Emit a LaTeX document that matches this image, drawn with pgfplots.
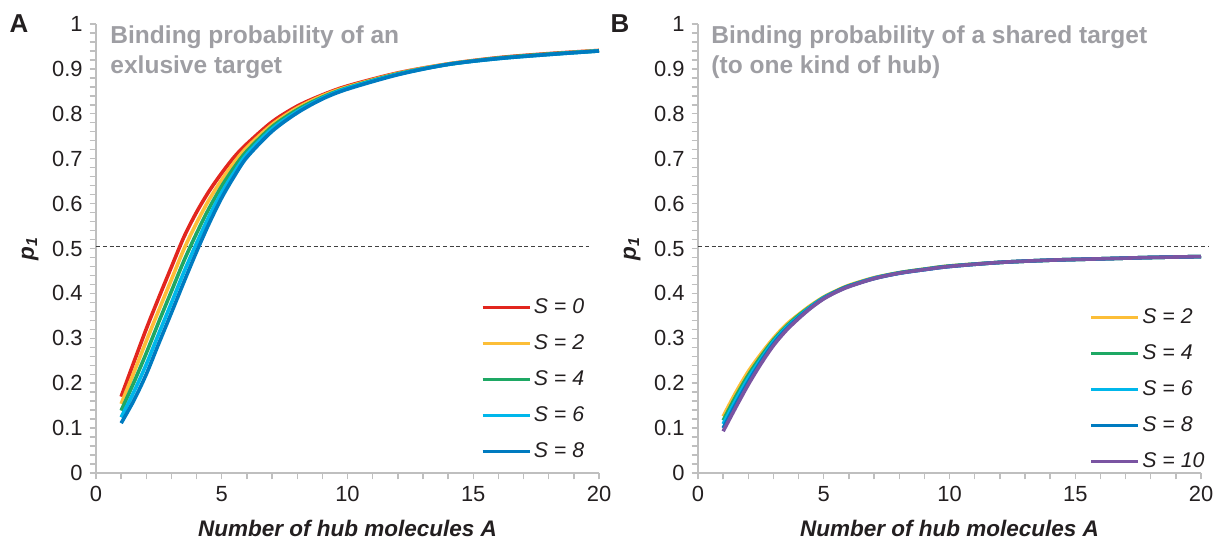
\documentclass[border=0pt]{standalone}
\usepackage{pgfplots}
\usepackage{pgfplotstable}
\usepackage{fontspec}
\setmainfont{Liberation Sans}
\pgfplotsset{compat=1.18}

\definecolor{cred}{RGB}{226,38,30}
\definecolor{cyel}{RGB}{252,190,56}
\definecolor{cgrn}{RGB}{30,168,100}
\definecolor{ccya}{RGB}{0,183,235}
\definecolor{cblu}{RGB}{0,123,192}
\definecolor{cpur}{RGB}{122,84,162}
\definecolor{axgray}{RGB}{191,191,191}
\definecolor{ttlgray}{RGB}{158,158,163}
\definecolor{txt}{RGB}{35,31,32}

\pgfplotstableread{
x    s0    s2    s4    s6    s8
1    0.170 0.154 0.139 0.124 0.111
1.5  0.246 0.223 0.201 0.180 0.161
2    0.321 0.294 0.267 0.242 0.220
2.5  0.391 0.363 0.337 0.311 0.289
3    0.459 0.431 0.405 0.379 0.357
3.5  0.526 0.499 0.473 0.448 0.426
4    0.581 0.557 0.534 0.512 0.493
4.5  0.628 0.609 0.590 0.572 0.556
5    0.668 0.653 0.639 0.625 0.613
5.5  0.704 0.692 0.681 0.670 0.661
6    0.733 0.725 0.717 0.710 0.703
7    0.782 0.776 0.771 0.766 0.761
8    0.817 0.813 0.809 0.805 0.802
9    0.842 0.840 0.837 0.835 0.833
10   0.862 0.860 0.858 0.857 0.855
12   0.891 0.890 0.889 0.888 0.887
14   0.911 0.911 0.910 0.910 0.910
16   0.925 0.924 0.924 0.923 0.923
18   0.934 0.933 0.933 0.932 0.932
20   0.941 0.941 0.940 0.940 0.940
}\tableA

\pgfplotstableread{
x    s2    s4    s6    s8    s10
1    0.126 0.117 0.109 0.100 0.093
1.5  0.179 0.170 0.162 0.153 0.146
2    0.226 0.218 0.211 0.203 0.197
2.5  0.265 0.259 0.253 0.248 0.243
3    0.300 0.296 0.292 0.288 0.284
3.5  0.330 0.326 0.323 0.320 0.317
4    0.353 0.351 0.348 0.346 0.344
4.5  0.374 0.372 0.371 0.369 0.368
5    0.392 0.391 0.390 0.389 0.388
5.5  0.406 0.405 0.404 0.404 0.403
6    0.418 0.417 0.416 0.416 0.415
7    0.435 0.434 0.434 0.433 0.433
8    0.446 0.446 0.445 0.445 0.445
9    0.454 0.454 0.453 0.453 0.453
10   0.461 0.461 0.460 0.460 0.460
12   0.469 0.469 0.469 0.469 0.469
14   0.474 0.474 0.474 0.474 0.474
16   0.477 0.477 0.477 0.477 0.477
18   0.480 0.480 0.480 0.480 0.480
20   0.482 0.482 0.482 0.482 0.482
}\tableB

\pgfplotsset{
  panel/.style={
    width=251.5bp, height=224.5bp, scale only axis,
    xmin=0, xmax=20, ymin=0, ymax=1,
    axis lines=left,
    axis line style={-, draw=axgray, line width=1bp},
    xtick={0,5,...,20}, minor x tick num=4,
    ytick={0,0.1,...,1}, minor y tick num=4,
    tick align=outside,
    major tick length=3.2bp, minor tick length=3.2bp,
    every tick/.style={draw=axgray, line width=0.7bp},
    tick label style={font=\fontsize{11}{13}\selectfont, text=txt},
    /pgf/number format/assume math mode=true,
    yticklabel style={/pgf/number format/.cd, fixed, precision=1},
    clip=false,
    xlabel={\textbf{\textit{Number of hub molecules A}}},
    ylabel={\textbf{\textit{p}\textsubscript{\textit{1}}}},
    label style={font=\fontsize{11.3}{13}\selectfont, text=txt},
    xlabel style={at={(axis description cs:0.5,-0.1225)}, anchor=center},
    ylabel style={at={(axis description cs:-0.131,0.5)}, anchor=center},
    legend cell align=left,
    legend image code/.code={\draw[#1, line width=1.5bp] (0bp,0bp) -- (23.5bp,0bp);},
    legend style={draw=none, fill=none, inner sep=0pt, anchor=north west,
      font=\fontsize{10.7}{12}\selectfont\itshape, text=txt,
      row sep=6.45bp, nodes={inner sep=1.3bp}},
  },
  curve/.style={line width=1.8bp, smooth},
}

\begin{document}
\begin{tikzpicture}
\path[use as bounding box] (0,0) rectangle (611.5bp,269.5bp);

\begin{axis}[panel, at={(48bp,33bp)}, anchor=south west,
  legend style={at={(rel axis cs:0.765,0.395)}}]
  \addplot[forget plot, draw=black!75, line width=0.7bp, dash pattern=on 2bp off 1.4bp] coordinates {(0,0.505) (19.6,0.505)};
  \addplot[curve, cred] table[x=x, y=s0] {\tableA};
  \addplot[curve, cyel] table[x=x, y=s2] {\tableA};
  \addplot[curve, cgrn] table[x=x, y=s4] {\tableA};
  \addplot[curve, ccya] table[x=x, y=s6] {\tableA};
  \addplot[curve, cblu] table[x=x, y=s8] {\tableA};
  \legend{S = 0, S = 2, S = 4, S = 6, S = 8}
  \node[anchor=north west, align=left, inner sep=0pt, text=ttlgray,
    font=\fontsize{12.3}{15}\selectfont\bfseries] at (rel axis cs:0.028,0.997)
    {Binding probability of an\\exlusive target};
  \node[anchor=center, inner sep=0pt, text=txt, font=\fontsize{13}{15}\selectfont\bfseries]
    at (rel axis cs:-0.153,1.0) {A};
\end{axis}

\begin{axis}[panel, at={(349bp,33bp)}, anchor=south west,
  legend style={at={(rel axis cs:0.778,0.373)}}]
  \addplot[forget plot, draw=black!75, line width=0.7bp, dash pattern=on 2bp off 1.4bp] coordinates {(0,0.505) (20.3,0.505)};
  \addplot[curve, cyel] table[x=x, y=s2] {\tableB};
  \addplot[curve, cgrn] table[x=x, y=s4] {\tableB};
  \addplot[curve, ccya] table[x=x, y=s6] {\tableB};
  \addplot[curve, cblu] table[x=x, y=s8] {\tableB};
  \addplot[curve, cpur] table[x=x, y=s10] {\tableB};
  \legend{S = 2, S = 4, S = 6, S = 8, S = 10}
  \node[anchor=north west, align=left, inner sep=0pt, text=ttlgray,
    font=\fontsize{12.3}{15}\selectfont\bfseries] at (rel axis cs:0.026,0.997)
    {Binding probability of a shared target\\(to one kind of hub)};
  \node[anchor=center, inner sep=0pt, text=txt, font=\fontsize{13}{15}\selectfont\bfseries]
    at (rel axis cs:-0.155,1.0) {B};
\end{axis}
\end{tikzpicture}
\end{document}
